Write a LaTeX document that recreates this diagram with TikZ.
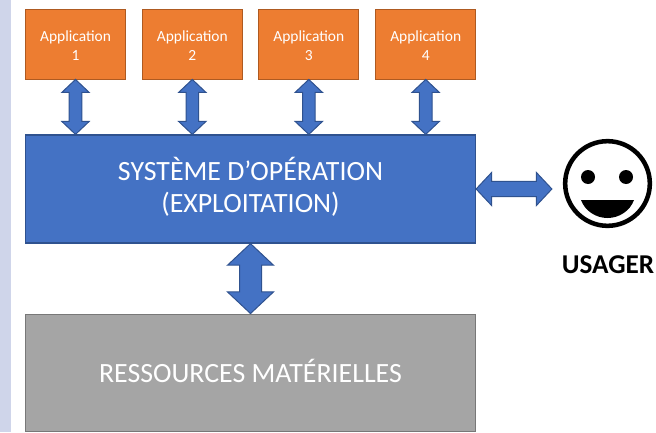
\documentclass[tikz,border=0pt]{standalone}
\usepackage{fontspec}
\setmainfont{Carlito}
\usetikzlibrary{calc}
\definecolor{strip}{HTML}{CFD5EA}
\definecolor{blueF}{HTML}{4472C4}
\definecolor{blueD}{HTML}{2F528F}
\definecolor{orangeF}{HTML}{ED7D31}
\definecolor{orangeD}{HTML}{AE5A21}
\definecolor{grayF}{HTML}{A5A5A5}
\definecolor{grayD}{HTML}{787878}
\tikzset{
  px/.style={x=0.75pt,y=-0.75pt},
  appbox/.style={draw=orangeD,fill=orangeF,line width=0.9pt,minimum width=75pt,minimum height=53pt,inner sep=0pt,text=white,align=center,font=\fontsize{11.6}{14.25}\selectfont},
  osbox/.style={draw=blueD,fill=blueF,line width=0.9pt,minimum width=337.5pt,minimum height=81pt,inner sep=0pt,text=white,align=center,font=\fontsize{20.9}{24}\selectfont},
  resbox/.style={draw=grayD,fill=grayF,line width=0.9pt,minimum width=337.5pt,minimum height=88pt,inner sep=0pt,text=white,text depth=3pt,font=\fontsize{20.9}{24}\selectfont},
  blockarrow/.style={draw=blueD,fill=blueF,line width=0.75pt,line join=miter},
  faceline/.style={draw=black,line width=3.4pt},
  usagerlabel/.style={inner sep=0pt,text=black,font=\fontsize{20.4}{24}\selectfont\bfseries}
}
\newcommand{\applabel}[1]{\rule{0pt}{10pt}Application\\#1}
% vertical block arrow: from #1 down to #2; head half-width #3, shaft half-width #4, head length #5 (px)
\newcommand{\vblock}[5]{%
  \draw[blockarrow] (#1)
   -- ($(#1)+(#3,#5)$) -- ($(#1)+(#4,#5)$)
   -- ($(#2)+(#4,-#5)$) -- ($(#2)+(#3,-#5)$) -- (#2)
   -- ($(#2)+(-#3,-#5)$) -- ($(#2)+(-#4,-#5)$)
   -- ($(#1)+(-#4,#5)$) -- ($(#1)+(-#3,#5)$) -- cycle;}
% horizontal block arrow: from #1 right to #2
\newcommand{\hblock}[5]{%
  \draw[blockarrow] (#1)
   -- ($(#1)+(#5,-#3)$) -- ($(#1)+(#5,-#4)$)
   -- ($(#2)+(-#5,-#4)$) -- ($(#2)+(-#5,-#3)$) -- (#2)
   -- ($(#2)+(-#5,#3)$) -- ($(#2)+(-#5,#4)$)
   -- ($(#1)+(#5,#4)$) -- ($(#1)+(#5,#3)$) -- cycle;}
\begin{document}
\begin{tikzpicture}[px]
\useasboundingbox (0,0) rectangle (656,432);
\fill[strip] (0,0) rectangle (11,432);
\node[appbox] (app1) at (75.5,44.5) {\applabel{1}};
\node[appbox] (app2) at (192.3,44.5) {\applabel{2}};
\node[appbox] (app3) at (308.8,44.5) {\applabel{3}};
\node[appbox] (app4) at (425.7,44.5) {\applabel{4}};
\node[osbox] (os) at (250.5,189) {SYSTÈME D’OPÉRATION\\(EXPLOITATION)\rule[-6.5pt]{0pt}{0pt}};
\node[resbox] (res) at (250.5,372.8) {RESSOURCES MATÉRIELLES};
\foreach \i in {1,2,3,4}{
  \coordinate (t\i) at ($(app\i.south)+(0,-1)$);
  \coordinate (b\i) at (app\i.south |- os.north);
  \vblock{t\i}{b\i}{13.7}{6.3}{13}
}
\vblock{os.south}{res.north}{23}{11}{21.6}
\node[circle,faceline,minimum size=63.5pt,inner sep=0pt] (face) at (607.5,183.5) {};
\fill (588,177) circle (7);
\fill (626,177) circle (7);
\fill (581,200) -- (634,200) .. controls (630,211) and (619,218) .. (607.5,218) .. controls (596,218) and (585,211) .. (581,200) -- cycle;
\coordinate (fa) at ($(face.west)+(-11,0)$);
\coordinate (fb) at (fa |- os.east);
\hblock{os.east}{fb}{16.5}{7.7}{15.5}
\node[usagerlabel] (usager) at (608,265) {USAGER};
\end{tikzpicture}
\end{document}
